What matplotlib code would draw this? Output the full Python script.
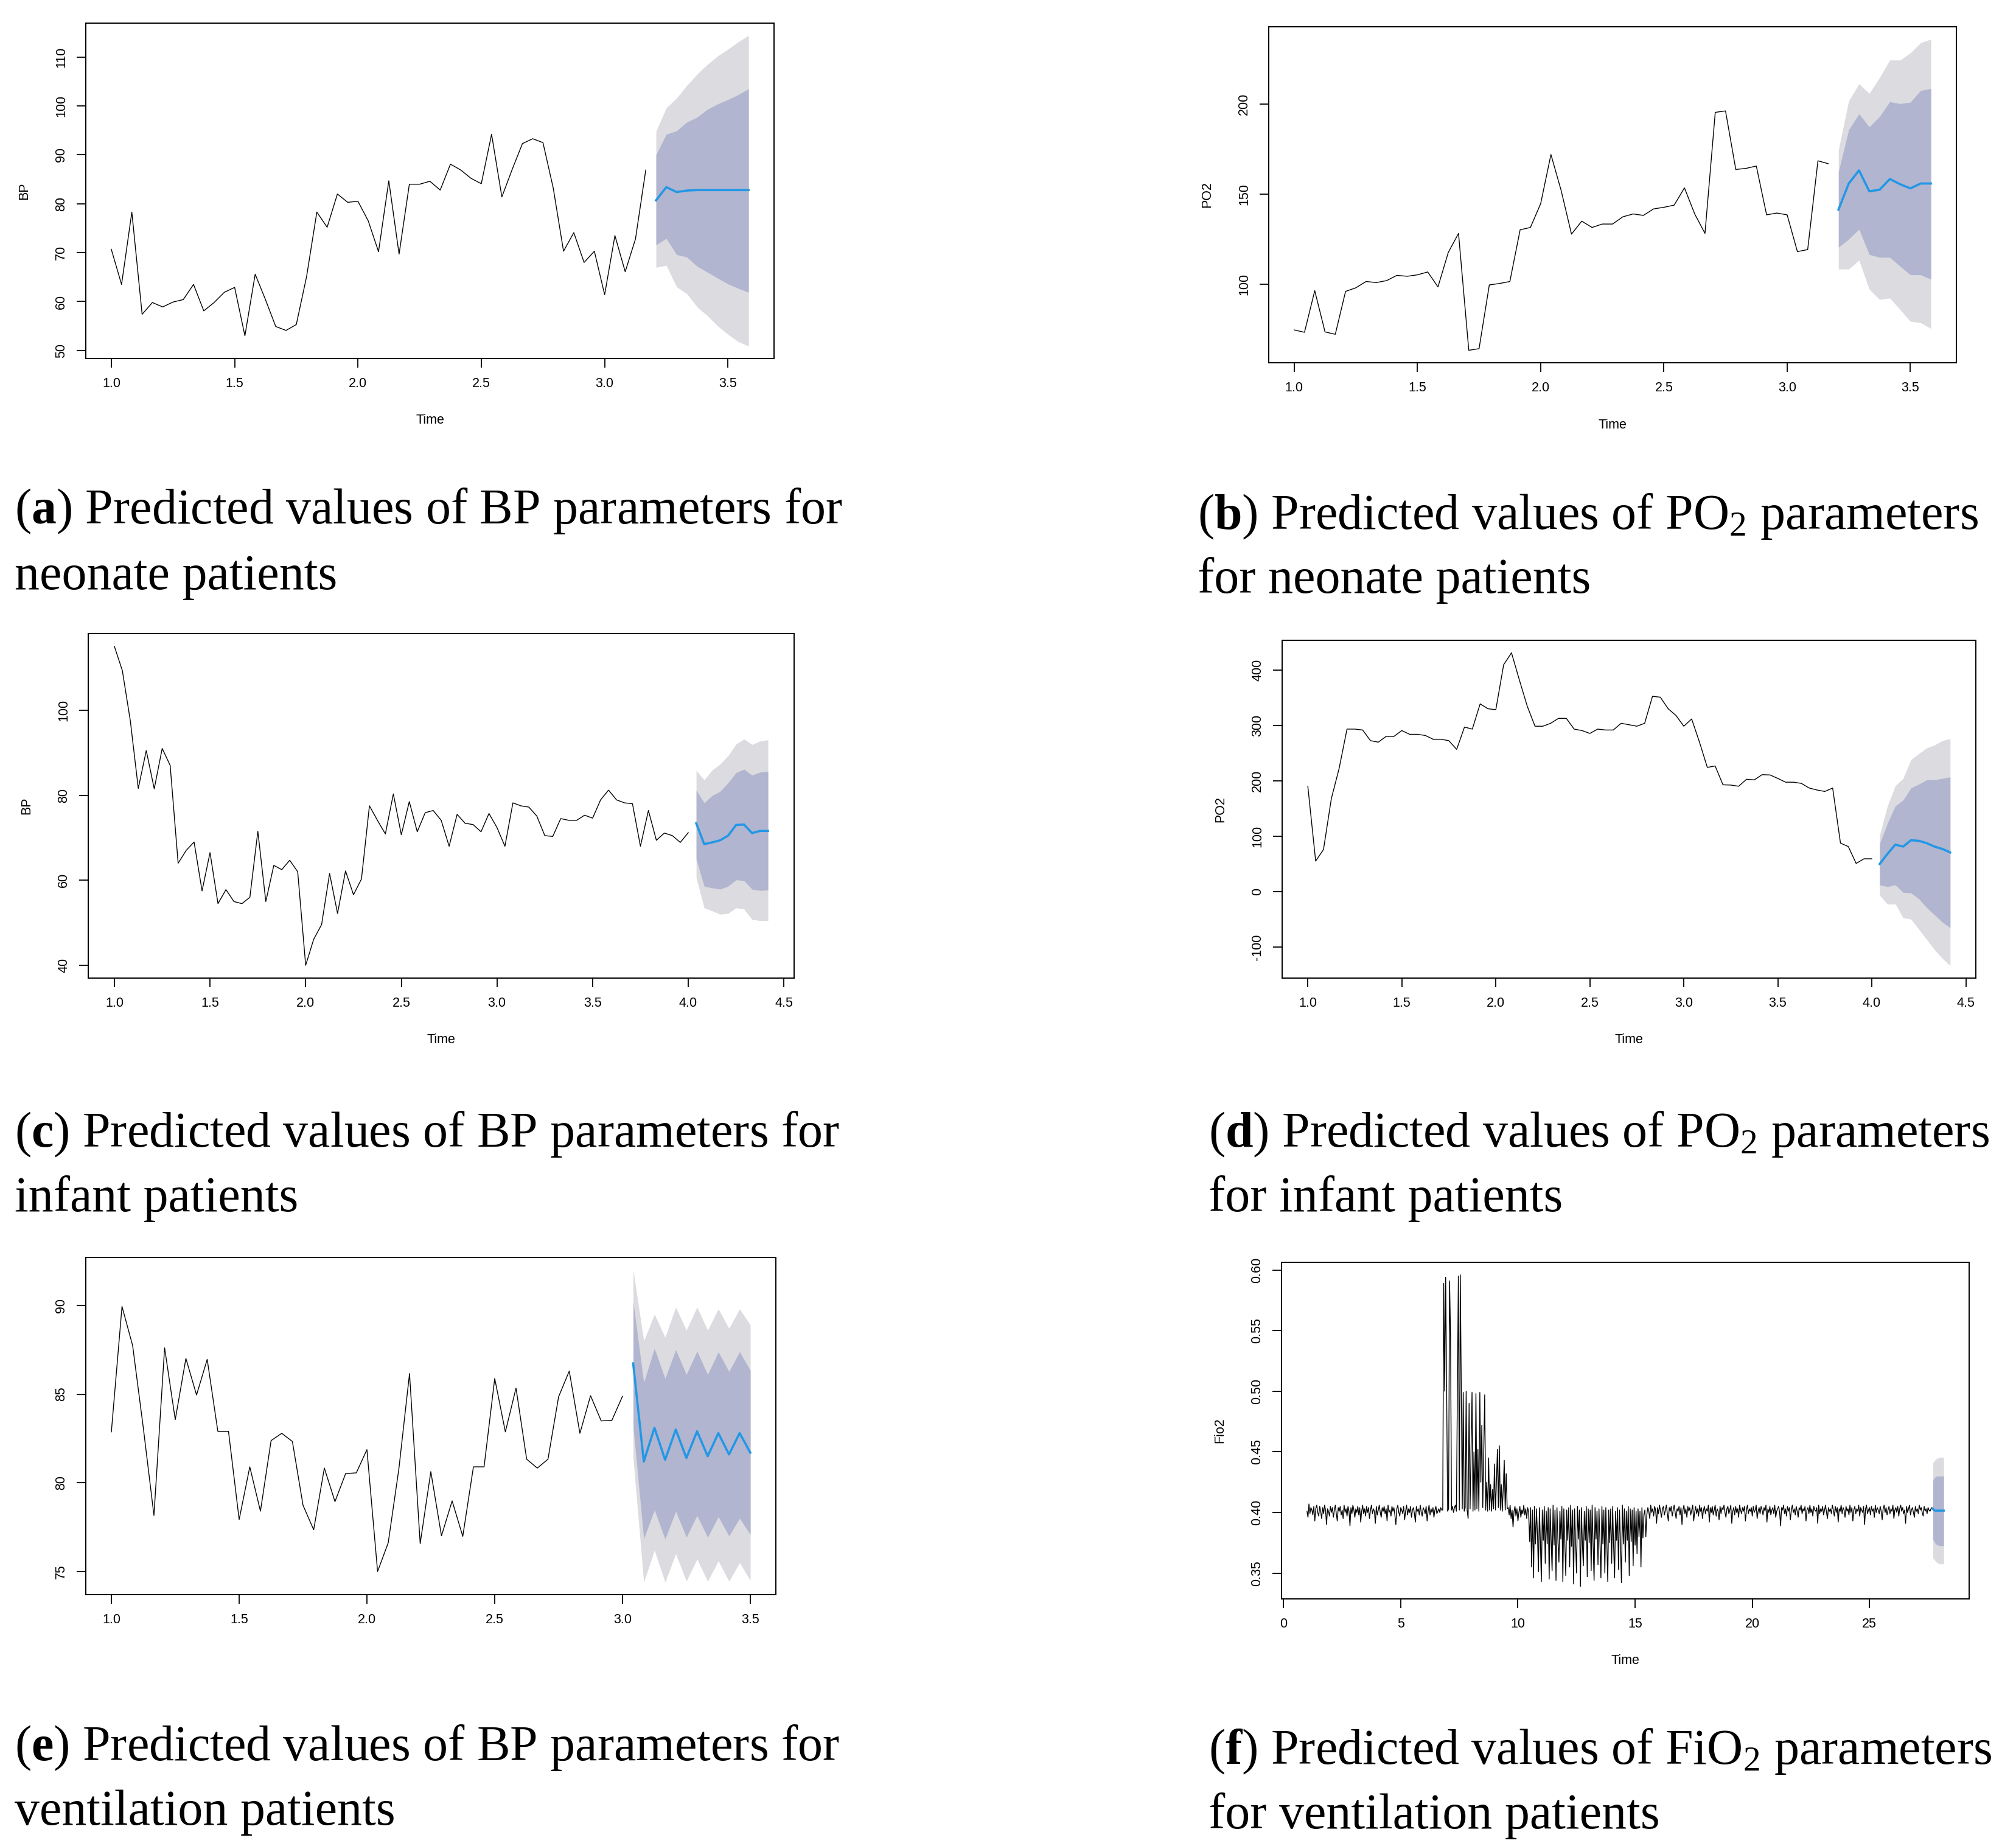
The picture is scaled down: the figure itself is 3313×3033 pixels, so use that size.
import matplotlib
matplotlib.use("Agg")
import matplotlib.pyplot as plt
import numpy as np

W, H = 3313, 3033
FREQ = 24

plt.rcParams["font.family"] = ["Liberation Sans", "DejaVu Sans"]
plt.rcParams["axes.unicode_minus"] = False
plt.rcParams["mathtext.fontset"] = "custom"
plt.rcParams["mathtext.rm"] = "Liberation Serif"
plt.rcParams["mathtext.bf"] = "Liberation Serif:bold"
plt.rcParams["mathtext.it"] = "Liberation Serif:italic"

GREY = "#DBDBE0"
BLUEGREY = "#B1B5CF"
BLUE = "#2297E6"

# ---------- (a) BP, neonate ----------
bp_neo = [70.7, 63.5, 78.3, 57.4, 59.8, 58.9, 59.9, 60.4, 63.5, 58.1,
          59.8, 61.9, 62.9, 53.0, 65.6, 60.4, 54.9, 54.1, 55.3, 65.1,
          78.3, 75.2, 82.0, 80.3, 80.5, 76.5, 70.2, 84.7, 69.7, 84.0,
          84.0, 84.6, 82.8, 88.1, 86.9, 85.2, 84.1, 94.2, 81.4, 87.0,
          92.3, 93.3, 92.5, 83.2, 70.3, 74.1, 68.0, 70.3, 61.4, 73.5,
          66.1, 72.8, 86.9]
bp_neo_fc = [80.7, 83.4, 82.4, 82.7, 82.8, 82.8, 82.8, 82.8, 82.8, 82.8]
bp_neo_hi80 = [90.0, 94.2, 94.9, 96.7, 97.7, 99.3, 100.4, 101.3, 102.3, 103.5]
bp_neo_lo80 = [71.6, 72.9, 69.6, 69.1, 67.2, 66.0, 64.8, 63.6, 62.7, 61.9]
bp_neo_hi95 = [94.8, 99.6, 101.6, 104.2, 106.5, 108.5, 110.2, 111.6, 113.1, 114.4]
bp_neo_lo95 = [67.0, 67.4, 63.0, 61.6, 58.9, 57.1, 55.0, 53.3, 51.8, 50.9]

# ---------- (b) PO2, neonate ----------
po2_neo = [74.7, 73.4, 96.5, 73.6, 72.3, 96.1, 98.1, 101.6, 101.0, 102.1,
           105.0, 104.5, 105.3, 106.9, 98.6, 117.7, 128.3, 63.4, 64.3, 99.7,
           100.5, 101.6, 130.3, 131.6, 144.8, 172.1, 152.0, 127.9, 135.1, 131.6,
           133.5, 133.5, 137.5, 139.1, 138.3, 141.9, 142.8, 144.0, 153.6, 139.1,
           128.3, 195.5, 196.3, 163.8, 164.4, 165.7, 138.6, 139.6, 138.6, 118.2,
           119.3, 168.6, 167.0]
po2_neo_fc = [141.5, 156.0, 163.3, 151.7, 152.5, 158.5, 155.6, 153.3, 156.0, 156.0]
po2_neo_hi80 = [162.5, 185.8, 194.7, 187.4, 193.1, 201.4, 200.3, 201.1, 207.6, 208.7]
po2_neo_lo80 = [120.6, 125.1, 130.6, 116.6, 115.0, 115.0, 110.1, 105.3, 105.3, 102.9]
po2_neo_hi95 = [174.6, 201.9, 211.3, 206.0, 214.8, 224.5, 224.5, 228.5, 234.1, 236.1]
po2_neo_lo95 = [108.5, 108.5, 113.4, 97.3, 91.6, 92.4, 86.0, 79.5, 78.7, 75.5]

# ---------- (c) BP, infant ----------
bp_inf = [115.0, 109.3, 97.5, 81.6, 90.5, 81.5, 91.0, 87.0, 64.0, 67.0,
          69.0, 57.5, 66.5, 54.5, 57.8, 55.0, 54.5, 56.0, 71.5, 55.0,
          63.5, 62.5, 64.7, 62.0, 40.0, 46.1, 49.6, 61.6, 52.2, 62.2,
          56.6, 60.3, 77.5, 74.1, 70.9, 80.3, 70.7, 78.5, 71.4, 75.9,
          76.4, 74.1, 68.0, 75.5, 73.4, 73.1, 71.4, 75.7, 72.4, 68.0,
          78.2, 77.5, 77.2, 75.1, 70.5, 70.3, 74.5, 74.1, 74.1, 75.3,
          74.6, 78.9, 81.2, 78.9, 78.2, 78.0, 68.0, 76.4, 69.4, 71.1,
          70.5, 68.9, 71.2]
bp_inf_fc = [73.4, 68.5, 68.9, 69.4, 70.5, 73.0, 73.1, 71.1, 71.6, 71.6]
bp_inf_hi80 = [81.2, 78.2, 79.9, 80.9, 82.9, 85.3, 86.1, 84.7, 85.4, 85.6]
bp_inf_lo80 = [65.0, 58.6, 58.2, 57.9, 58.6, 60.1, 59.9, 57.9, 57.6, 57.7]
bp_inf_hi95 = [85.8, 83.6, 85.9, 87.3, 89.3, 92.0, 93.2, 91.9, 92.7, 93.0]
bp_inf_lo95 = [60.6, 53.5, 52.8, 52.0, 52.2, 53.5, 53.2, 50.8, 50.5, 50.5]

# ---------- (d) PO2, infant ----------
po2_inf = [190.6, 55.5, 76.4, 168.1, 223.0, 293.7, 293.7, 292.1, 272.8, 270.2,
           280.6, 280.6, 291.1, 284.3, 284.3, 282.2, 275.4, 275.4, 272.8, 257.1,
           297.4, 293.7, 339.3, 330.4, 328.8, 409.9, 431.4, 382.7, 335.6, 298.9,
           298.9, 304.2, 313.1, 313.1, 293.7, 291.1, 285.9, 293.7, 292.1, 292.1,
           304.2, 301.6, 298.9, 304.2, 352.9, 351.3, 330.4, 318.3, 298.9, 312.0,
           270.2, 224.6, 227.2, 193.2, 192.7, 190.6, 203.1, 202.1, 211.5, 211.0,
           204.7, 197.9, 197.9, 195.8, 187.4, 183.8, 181.2, 187.4, 88.0, 81.7,
           51.3, 59.7, 59.7]
po2_inf_fc = [50.3, 68.6, 85.3, 81.7, 93.2, 92.1, 88.0, 81.7, 77.5, 71.2]
po2_inf_hi80 = [86.9, 123.6, 155.0, 165.4, 187.4, 194.2, 202.1, 202.1, 204.7, 207.3]
po2_inf_lo80 = [12.6, 9.4, 12.6, -1.0, -2.1, -12.6, -28.3, -41.4, -54.5, -64.9]
po2_inf_hi95 = [102.6, 155.0, 191.6, 204.7, 238.7, 249.2, 259.7, 264.9, 272.8, 276.4]
po2_inf_lo95 = [-6.3, -22.0, -22.0, -46.6, -49.2, -67.5, -85.9, -104.2, -119.9, -133.0]

# ---------- (e) BP, ventilation ----------
bp_vent = [82.87, 89.94, 87.73, 83.10, 78.16, 87.61, 83.56, 87.01, 84.95, 86.96,
           82.90, 82.90, 77.93, 80.90, 78.40, 82.38, 82.79, 82.33, 78.73, 77.35,
           80.83, 78.94, 80.52, 80.56, 81.87, 75.00, 76.62, 80.79, 86.16, 76.57,
           80.63, 77.01, 78.98, 76.98, 80.90, 80.90, 85.88, 82.87, 85.34, 81.33,
           80.83, 81.33, 84.85, 86.30, 82.79, 84.91, 83.49, 83.52, 84.88]
bp_vent_fc = [86.73, 81.2, 83.1, 81.3, 83.0, 81.4, 82.9, 81.5, 82.8, 81.6, 82.8, 81.7]
bp_vent_hi80 = [90.2, 85.65, 87.58, 85.88, 87.5, 86.1, 87.42, 86.1, 87.38, 86.27, 87.38, 86.34]
bp_vent_lo80 = [83.2, 76.85, 78.47, 76.82, 78.4, 76.93, 78.16, 76.93, 78.09, 77.0, 78.0, 77.08]
bp_vent_hi95 = [92.0, 88.0, 89.5, 88.2, 89.9, 88.6, 89.9, 88.6, 89.8, 88.7, 89.8, 88.9]
bp_vent_lo95 = [81.4, 74.4, 76.2, 74.4, 76.0, 74.45, 75.7, 74.45, 75.6, 74.45, 75.5, 74.5]

# ---------- (f) FiO2, ventilation (thousandths) ----------
fio2_base1 = [
    401, 396, 407, 399, 404, 402, 398, 405, 393, 403, 406, 400, 397, 405, 401, 395, 404, 399, 406, 402,
    390, 403, 401, 397, 405, 400, 404, 396, 402, 406, 399, 393, 404, 401, 405, 398, 402, 395, 406, 400,
    403, 397, 405, 401, 389, 404, 399, 406, 402, 396, 403, 400, 405, 398, 404, 392, 401, 406, 399, 403,
    397, 405, 400, 404, 395, 402, 406, 399, 403, 401, 391, 405, 398, 402, 406, 400, 396, 404, 401, 405,
    399, 403, 393, 406, 400, 402, 397, 405, 401, 404, 398, 390, 403, 406, 400, 397, 404, 402, 399, 405,
    394, 401, 406, 398, 403, 400, 405, 396, 402, 404, 399, 392, 405, 401, 403, 398, 406, 400, 397, 404,
    402, 399, 405, 393, 401, 406, 398, 403, 400, 404, 396, 402, 405, 399, 401, 403, 400, 404, 402]
fio2_high = [
    402, 589, 500, 594, 501, 401, 403, 591, 545, 402, 405, 400, 404, 406, 401, 500, 595, 402, 596, 500,
    403, 499, 401, 404, 500, 402, 395, 490, 403, 452, 499, 401, 450, 402, 498, 403, 452, 401, 499, 425,
    472, 404, 450, 497, 402, 425, 401, 445, 402, 423, 401, 419, 403, 440, 402, 425, 452, 404, 455, 402,
    423, 401, 420, 443, 402, 432, 403]
fio2_mid = [404, 398, 406, 395, 402, 388, 401, 405, 397, 403, 393,
            400, 405, 396, 402, 399, 406, 398, 403, 395, 404, 400]
fio2_low = [
    376, 404, 355, 402, 346, 405, 374, 403, 382, 351, 404, 375, 343, 402, 377, 405, 358, 401, 374, 404,
    345, 403, 378, 352, 406, 373, 402, 344, 404, 376, 359, 401, 378, 405, 343, 403, 375, 348, 402, 377,
    404, 355, 406, 372, 402, 341, 403, 376, 350, 405, 378, 402, 339, 404, 374, 356, 401, 377, 405, 347,
    403, 375, 402, 352, 406, 373, 344, 404, 378, 401, 357, 403, 376, 346, 405, 374, 402, 350, 404, 377,
    343, 402, 375, 403, 358, 405, 372, 346, 401, 377, 404, 353, 402, 375, 342, 406, 374, 403, 359, 401,
    377, 405, 348, 403, 376, 402, 356, 404, 373, 401, 366, 403, 380, 401, 355, 404, 379, 398, 402, 380]
fio2_base2 = [
    398, 404, 401, 395, 406, 400, 403, 397, 405, 402, 391, 404, 399, 406, 401, 396, 403, 405, 398, 402,
    406, 399, 393, 404, 401, 405, 397, 402, 406, 400, 395, 403, 401, 405, 398, 404, 390, 402, 406, 399,
    403, 396, 405, 401, 404, 398, 402, 406, 393, 400, 405, 399, 403, 397, 406, 401, 404, 395, 402, 405,
    399, 403, 401, 406, 392, 404, 400, 405, 398, 402, 406, 397, 403, 401, 394, 405, 399, 404, 402, 406,
    400, 396, 403, 405, 399, 402, 406, 391, 401, 404, 398, 405, 400, 403, 396, 406, 402, 399, 404, 401,
    405, 393, 402, 406, 399, 403, 401, 404, 397, 405, 400, 402, 406, 395, 401, 404, 399, 405, 402, 398,
    404, 401, 406, 392, 403, 400, 405, 398, 402, 404, 399, 406, 396, 401, 403, 405, 400, 389, 404, 402,
    406, 399, 403, 397, 405, 401, 404, 394, 402, 406, 400, 403, 398, 405, 401, 396, 404, 402, 406, 399,
    403, 401, 405, 393, 402, 404, 399, 406, 400, 403, 397, 405, 402, 401, 404, 391, 406, 399, 403, 401,
    405, 398, 402, 406, 400, 395, 404, 401, 403, 399, 406, 402, 397, 405, 400, 404, 392, 403, 401, 406,
    399, 404, 402, 396, 405, 401, 403, 398, 406, 400, 404, 393, 402, 405, 399, 403, 401, 406, 397, 404,
    402, 400, 405, 390, 403, 406, 399, 402, 404, 398, 405, 401, 403, 396, 406, 400, 404, 402, 399, 405,
    401, 394, 403, 406, 400, 404, 398, 402, 405, 399, 403, 401, 406, 395, 402, 404, 400, 405, 397, 403,
    406, 401, 404, 399, 402, 391, 405, 400, 403, 406, 398, 402, 404, 400, 396, 405, 401, 403, 399, 406,
    402, 404, 400, 397, 405, 401, 403, 399, 404, 402, 401, 403, 404]
fio2_fc = [0.4030, 0.4018, 0.4016, 0.4015, 0.4015, 0.4015, 0.4015, 0.4015, 0.4015, 0.4015, 0.4015, 0.4015]
fio2_hi80 = [0.4260, 0.4280, 0.4290, 0.4295, 0.4300, 0.4300, 0.4300, 0.4300, 0.4300, 0.4300, 0.4300, 0.4300]
fio2_lo80 = [0.3780, 0.3765, 0.3750, 0.3740, 0.3735, 0.3730, 0.3728, 0.3726, 0.3725, 0.3725, 0.3725, 0.3725]
fio2_hi95 = [0.4410, 0.4420, 0.4430, 0.4440, 0.4445, 0.4450, 0.4452, 0.4454, 0.4455, 0.4455, 0.4455, 0.4455]
fio2_lo95 = [0.3625, 0.3615, 0.3605, 0.3595, 0.3588, 0.3582, 0.3578, 0.3576, 0.3575, 0.3575, 0.3575, 0.3575]

fio2 = [v / 1000 for v in fio2_base1 + fio2_high + fio2_mid + fio2_low + fio2_base2]

captions = [
    (r"($\mathbf{a}$) Predicted values of BP parameters for", "neonate patients"),
    (r"($\mathbf{b}$) Predicted values of PO$_2$ parameters", "for neonate patients"),
    (r"($\mathbf{c}$) Predicted values of BP parameters for", "infant patients"),
    (r"($\mathbf{d}$) Predicted values of PO$_2$ parameters", "for infant patients"),
    (r"($\mathbf{e}$) Predicted values of BP parameters for", "ventilation patients"),
    (r"($\mathbf{f}$) Predicted values of FiO$_2$ parameters", "for ventilation patients"),
]

fig = plt.figure(figsize=(W / 100, H / 100), dpi=100)


def draw_panel(box, obs, fc, lo80, hi80, lo95, hi95, xticks, yticks, ylabel, xlabel, yfmt="{:g}"):
    left, right, top, bottom = box
    ax = fig.add_axes([left / W, 1 - bottom / H, (right - left) / W, (bottom - top) / H])
    t_obs = 1 + np.arange(len(obs)) / FREQ
    t_fc = 1 + (len(obs) + np.arange(len(fc))) / FREQ
    ax.fill_between(t_fc, lo95, hi95, color=GREY, lw=0)
    ax.fill_between(t_fc, lo80, hi80, color=BLUEGREY, lw=0)
    ax.plot(t_obs, obs, color="black", lw=1.0)
    ax.plot(t_fc, fc, color=BLUE, lw=2.6)
    ax.margins(0.04)

    ax.set_xticks(xticks)
    ax.set_xticklabels([("{:.1f}" if isinstance(x, float) else "{}").format(x) for x in xticks])
    ax.set_yticks(yticks)
    ax.set_yticklabels([yfmt.format(y) for y in yticks], rotation=90, va="center")
    ax.tick_params(axis="both", direction="out", length=10.5, width=1.3,
                   labelsize=15.5, colors="black")
    ax.tick_params(axis="x", pad=12)
    ax.tick_params(axis="y", pad=11)
    for sp in ax.spines.values():
        sp.set_linewidth(1.4)

    w_px = right - left
    h_px = bottom - top
    if xlabel:
        ax.set_xlabel(xlabel, fontsize=15.5, va="center")
        ax.xaxis.set_label_coords(0.5, -102 / h_px)
    if ylabel:
        ax.set_ylabel(ylabel, fontsize=15.5, va="center", ha="center")
        ax.yaxis.set_label_coords(-101 / w_px, 0.5)
    return ax


x_short = [1.0, 1.5, 2.0, 2.5, 3.0, 3.5]
x_long = [1.0, 1.5, 2.0, 2.5, 3.0, 3.5, 4.0, 4.5]

draw_panel((141, 1272, 38, 589), bp_neo, bp_neo_fc, bp_neo_lo80, bp_neo_hi80, bp_neo_lo95, bp_neo_hi95,
           x_short, [50, 60, 70, 80, 90, 100, 110], "BP", "Time")
draw_panel((2085, 3215, 44, 596), po2_neo, po2_neo_fc, po2_neo_lo80, po2_neo_hi80, po2_neo_lo95, po2_neo_hi95,
           x_short, [100, 150, 200], "PO2", "Time")
draw_panel((145, 1305, 1041, 1607), bp_inf, bp_inf_fc, bp_inf_lo80, bp_inf_hi80, bp_inf_lo95, bp_inf_hi95,
           x_long, [40, 60, 80, 100], "BP", "Time")
draw_panel((2107, 3247, 1052, 1607), po2_inf, po2_inf_fc, po2_inf_lo80, po2_inf_hi80, po2_inf_lo95, po2_inf_hi95,
           x_long, [-100, 0, 100, 200, 300, 400], "PO2", "Time")
draw_panel((141, 1275, 2066, 2620), bp_vent, bp_vent_fc, bp_vent_lo80, bp_vent_hi80, bp_vent_lo95, bp_vent_hi95,
           x_short, [75, 80, 85, 90], None, None)
draw_panel((2106, 3236, 2074, 2627), fio2, fio2_fc, fio2_lo80, fio2_hi80, fio2_lo95, fio2_hi95,
           [0, 5, 10, 15, 20, 25], [0.35, 0.40, 0.45, 0.50, 0.55, 0.60], "Fio2", "Time", "{:.2f}")

# caption size fitted to the paper's caption width (Palatino there, a bit wider than Times)
renderer = fig.canvas.get_renderer()
probe = fig.text(0, 0, captions[0][0], fontsize=50, family="Liberation Serif")
cap_size = 1.04 * 50 * 1309 / probe.get_window_extent(renderer).width
probe.remove()

cap_pos = [(24, 860, 968), (1968, 869, 974), (24, 1884, 1990),
           (1986, 1884, 1990), (24, 2892, 2998), (1986, 2898, 3004)]
for (l1, l2), (x0, y1, y2) in zip(captions, cap_pos):
    fig.text(x0 / W, 1 - y1 / H, l1, fontsize=cap_size, family="Liberation Serif", va="baseline")
    fig.text(x0 / W, 1 - y2 / H, l2, fontsize=cap_size, family="Liberation Serif", va="baseline")

fig.savefig("out.png", dpi=100, facecolor="white")
